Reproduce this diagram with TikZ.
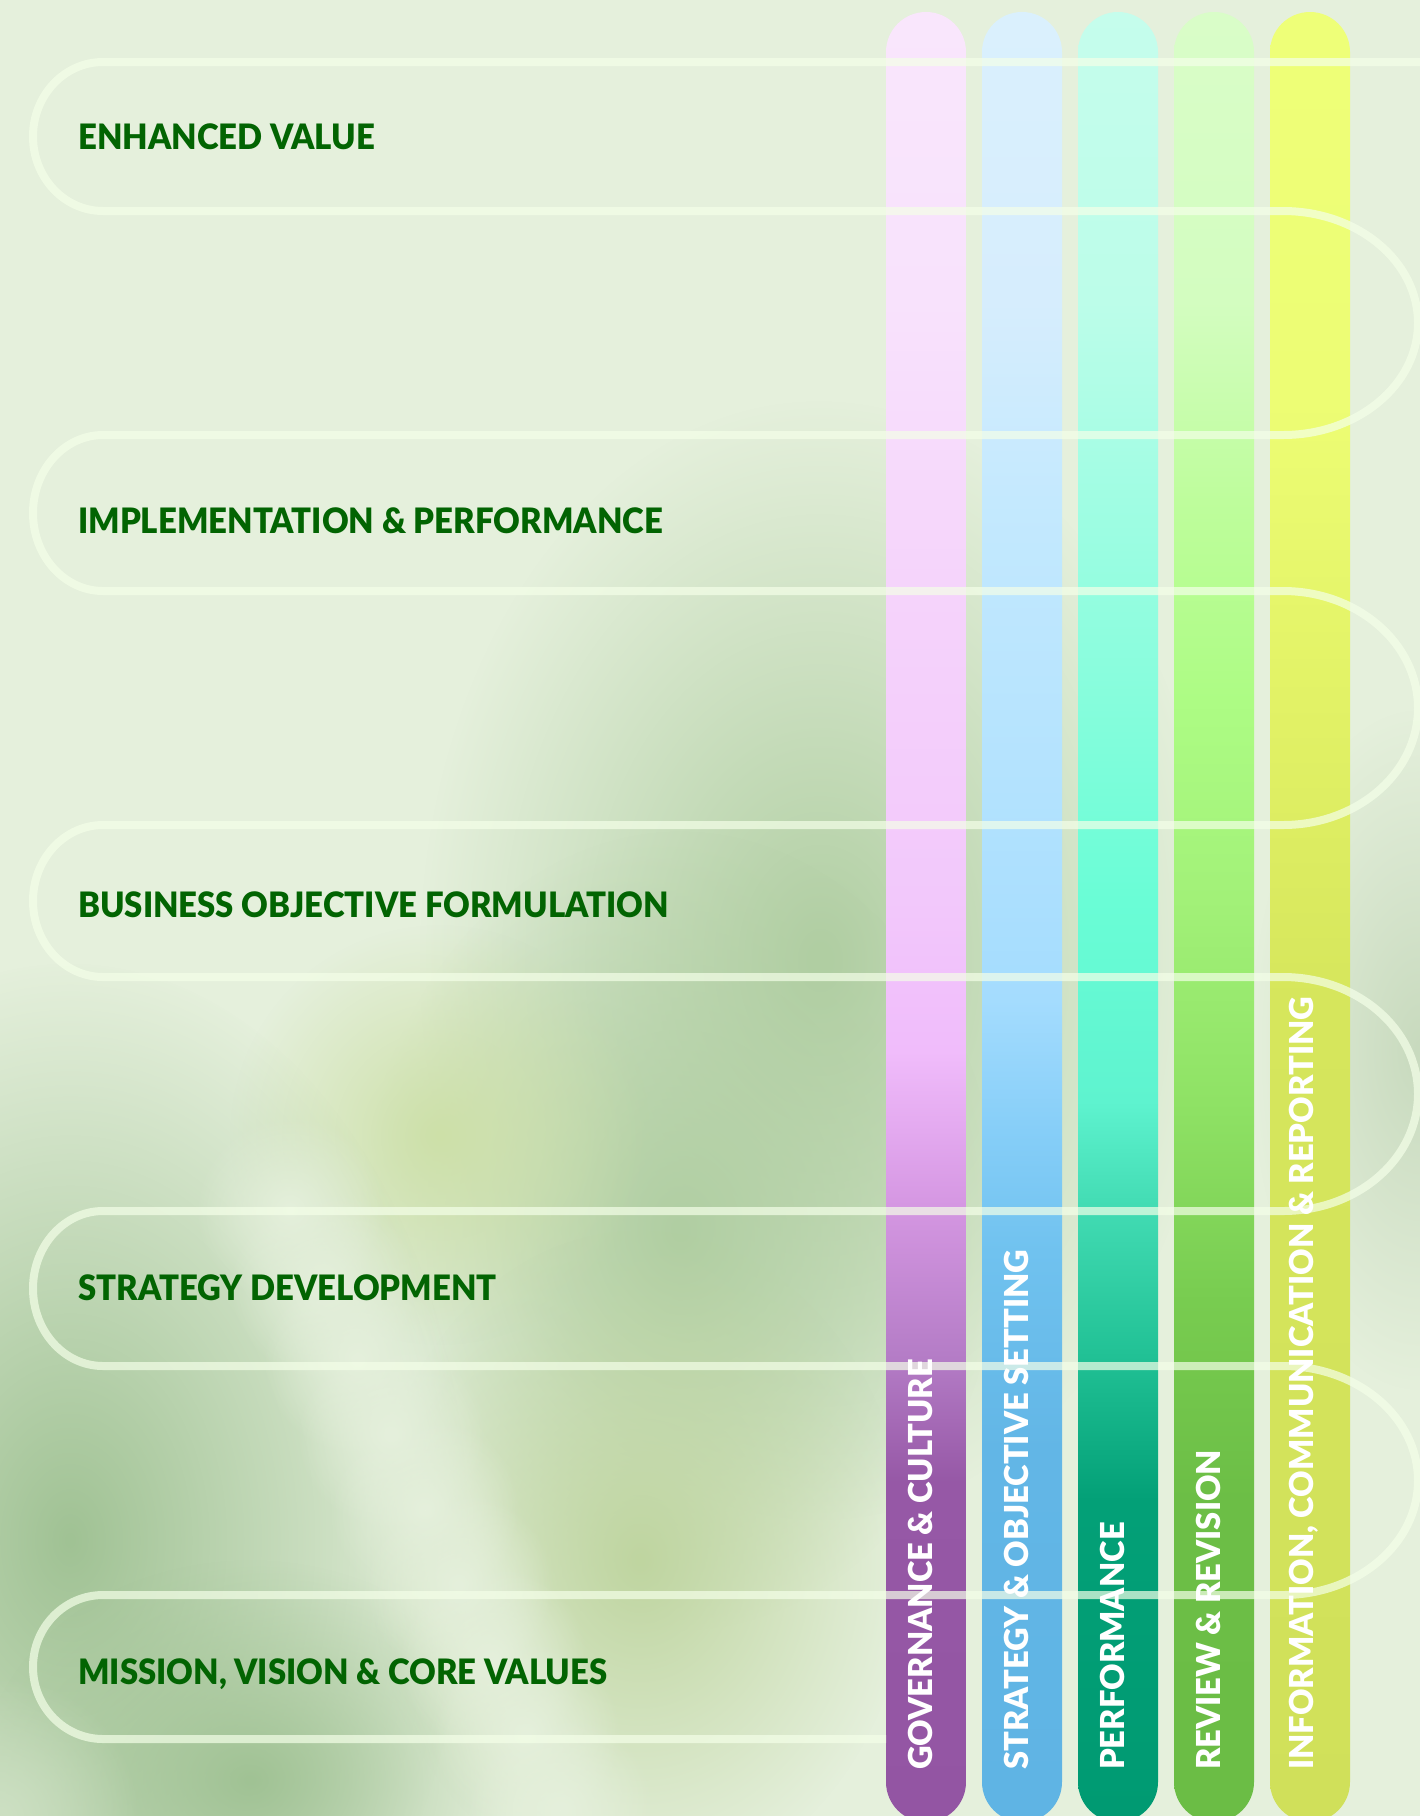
\documentclass[tikz,border=0pt]{standalone}
\usepackage{fontspec}
\setmainfont{Lato}
\newfontfamily\stagefont{Lato Black}[FakeStretch=0.94]
\newfontfamily\pillarfont{Lato Black}[FakeStretch=0.99]
\usepackage{xcolor}
\usetikzlibrary{positioning, fadings}

% Colours
\definecolor{bgGreen}{HTML}{E5F0DC}
\definecolor{labelGreen}{HTML}{026402}
\definecolor{trackWhite}{HTML}{F4FFE8}
\definecolor{blobGreen}{HTML}{B0CEA2}
\definecolor{blobSide}{HTML}{C8DABE}
\definecolor{blobYellow}{HTML}{CDE0A8}
\definecolor{blobOlive}{HTML}{BFD5A0}
\definecolor{blobDark}{HTML}{A0C294}
\definecolor{blobCorner}{HTML}{CDE0C3}

\definecolor{govA}{HTML}{9355A3}\definecolor{govB}{HTML}{9658A6}\definecolor{govC}{HTML}{B47CC6}
\definecolor{govD}{HTML}{D698E3}\definecolor{govE}{HTML}{E3A9EF}\definecolor{govF}{HTML}{F0BCFB}
\definecolor{govG}{HTML}{F2C8FB}\definecolor{govH}{HTML}{F5D3FB}\definecolor{govI}{HTML}{F8E2FC}
\definecolor{govJ}{HTML}{F9E6FC}
\definecolor{strA}{HTML}{5FB4E4}\definecolor{strB}{HTML}{62B6E6}\definecolor{strC}{HTML}{70C2EF}
\definecolor{strD}{HTML}{86CEF8}\definecolor{strE}{HTML}{A4DCFE}\definecolor{strF}{HTML}{B2E2FE}
\definecolor{strG}{HTML}{C4E9FE}\definecolor{strH}{HTML}{D6EDFD}\definecolor{strI}{HTML}{DAF0FD}
\definecolor{perA}{HTML}{009A72}\definecolor{perB}{HTML}{03A077}\definecolor{perC}{HTML}{22C296}
\definecolor{perD}{HTML}{44DDB5}\definecolor{perE}{HTML}{5EF3CF}\definecolor{perF}{HTML}{6AFDD6}
\definecolor{perG}{HTML}{86FDDC}\definecolor{perH}{HTML}{A0FDE3}\definecolor{perI}{HTML}{BCFDE9}
\definecolor{perJ}{HTML}{C5FDEC}
\definecolor{revA}{HTML}{6BBD45}\definecolor{revB}{HTML}{6CBE46}\definecolor{revC}{HTML}{78CC50}
\definecolor{revD}{HTML}{8FE265}\definecolor{revE}{HTML}{A2F178}\definecolor{revF}{HTML}{ADFC84}
\definecolor{revG}{HTML}{BEFD9C}\definecolor{revH}{HTML}{D3FDC0}\definecolor{revI}{HTML}{D9FDC8}
\definecolor{infA}{HTML}{D0E05A}\definecolor{infB}{HTML}{D6E65C}\definecolor{infC}{HTML}{E2F266}
\definecolor{infD}{HTML}{EDFD74}\definecolor{infE}{HTML}{EEFF78}

% Pillar gradients (25bp = bottom of the pillar, 75bp = top)
\pgfdeclareverticalshading{govShade}{100bp}{color(0bp)=(govA); color(25bp)=(govA); color(34.4bp)=(govB);
  color(37.8bp)=(govC); color(42.2bp)=(govD); color(44.1bp)=(govE); color(46.3bp)=(govF);
  color(50.5bp)=(govG); color(58.8bp)=(govH); color(67bp)=(govI); color(75bp)=(govJ); color(100bp)=(govJ)}
\pgfdeclareverticalshading{stratShade}{100bp}{color(0bp)=(strA); color(25bp)=(strA); color(35.3bp)=(strB);
  color(40.8bp)=(strC); color(44.1bp)=(strD); color(47.7bp)=(strE); color(53.2bp)=(strF);
  color(61.5bp)=(strG); color(67bp)=(strH); color(75bp)=(strI); color(100bp)=(strI)}
\pgfdeclareverticalshading{perfShade}{100bp}{color(0bp)=(perA); color(25bp)=(perA); color(33.9bp)=(perB);
  color(38bp)=(perC); color(42.2bp)=(perD); color(44.9bp)=(perE); color(50.5bp)=(perF);
  color(56bp)=(perG); color(61.5bp)=(perH); color(67bp)=(perI); color(75bp)=(perJ); color(100bp)=(perJ)}
\pgfdeclareverticalshading{revShade}{100bp}{color(0bp)=(revA); color(25bp)=(revA); color(33.9bp)=(revB);
  color(39.4bp)=(revC); color(44.9bp)=(revD); color(50.5bp)=(revE); color(56bp)=(revF);
  color(61.5bp)=(revG); color(67bp)=(revH); color(75bp)=(revI); color(100bp)=(revI)}
\pgfdeclareverticalshading{infoShade}{100bp}{color(0bp)=(infA); color(25bp)=(infA); color(47.7bp)=(infB);
  color(56bp)=(infC); color(64.3bp)=(infD); color(75bp)=(infE); color(100bp)=(infE)}

\tikzfading[name=softblob, inner color=transparent!0, outer color=transparent!100]

\tikzset{
    blob/.style={path fading=softblob},
    pillar/.style={rounded corners=40pt},
    pillarlabel/.style={text=white, font=\fontsize{33}{40}\pillarfont, inner sep=0pt, anchor=west, rotate=90},
    stagelabel/.style={text=labelGreen, font=\fontsize{35}{42}\stagefont, inner sep=0pt, anchor=base west},
    track/.style={draw=trackWhite, line width=8pt, opacity=0.7, line join=round}
}

\begin{document}
\begin{tikzpicture}[x=1pt, y=-1pt]
    % Background
    \fill[bgGreen] (0,0) rectangle (1420,1816);
    \useasboundingbox (0,0) rectangle (1420,1816);

    \fill[blobGreen, blob] (820,960) ellipse [x radius=400, y radius=560];
    \fill[blobGreen, blob] (680,1230) ellipse [x radius=320, y radius=400];
    \fill[blobSide, blob] (1420,1050) ellipse [x radius=170, y radius=340];
    \fill[blobYellow, blob] (440,1135) circle (210);
    \fill[blobOlive, blob] (640,1560) ellipse [x radius=270, y radius=330];
    \fill[blobDark, blob] (70,1540) ellipse [x radius=400, y radius=580];
    \fill[blobDark, blob] (250,1780) ellipse [x radius=270, y radius=220];
    % light streak between the green patches
    \foreach \t in {0,0.125,...,1}
        \fill[bgGreen, blob] ({290+270*\t},{1210+600*\t}) circle (95);
    \fill[blobCorner, blob] (0,1816) circle (140);

    % Pillars
    \shade[pillar, shading=govShade] (886,12) rectangle (966,1822);
    \shade[pillar, shading=stratShade] (982,12) rectangle (1062,1822);
    \shade[pillar, shading=perfShade] (1078,12) rectangle (1158,1822);
    \shade[pillar, shading=revShade] (1174,12) rectangle (1254,1822);
    \shade[pillar, shading=infoShade] (1270,12) rectangle (1350,1822);

    % Winding track
    \coordinate (trackStart) at (886,1739);
    \coordinate (trackEnd) at (1440,62);
    \draw[track] (trackStart) -- (103,1739)
        arc[start angle=90, end angle=270, x radius=70, y radius=72] -- (1283,1595)
        arc[start angle=90, end angle=-90, x radius=135, y radius=114.5] -- (103,1366)
        arc[start angle=90, end angle=270, x radius=70, y radius=77.5] -- (1283,1211)
        arc[start angle=90, end angle=-90, x radius=135, y radius=117] -- (103,977)
        arc[start angle=90, end angle=270, x radius=70, y radius=76] -- (1283,825)
        arc[start angle=90, end angle=-90, x radius=135, y radius=117] -- (103,591)
        arc[start angle=90, end angle=270, x radius=70, y radius=78] -- (1283,435)
        arc[start angle=90, end angle=-90, x radius=135, y radius=112] -- (103,211)
        arc[start angle=90, end angle=270, x radius=70, y radius=74.5] -- (trackEnd);

    % Pillar names
    \node[pillarlabel] (govLabel) at (920,1770) {GOVERNANCE \& CULTURE};
    \node[pillarlabel] (stratLabel) at (1016,1770) {STRATEGY \& OBJECTIVE SETTING};
    \node[pillarlabel] (perfLabel) at (1112,1770) {PERFORMANCE};
    \node[pillarlabel] (revLabel) at (1208,1770) {REVIEW \& REVISION};
    \node[pillarlabel] (infoLabel) at (1304,1770) {INFORMATION, COMMUNICATION \& REPORTING};

    % Stages
    \node[stagelabel] (enhanced) at (78,149) {ENHANCED VALUE};
    \node[stagelabel] (implementation) at (78,533) {IMPLEMENTATION \& PERFORMANCE};
    \node[stagelabel] (objective) at (78,917) {BUSINESS OBJECTIVE FORMULATION};
    \node[stagelabel] (strategy) at (78,1300) {STRATEGY DEVELOPMENT};
    \node[stagelabel] (mission) at (78,1684) {MISSION, VISION \& CORE VALUES};
\end{tikzpicture}
\end{document}
